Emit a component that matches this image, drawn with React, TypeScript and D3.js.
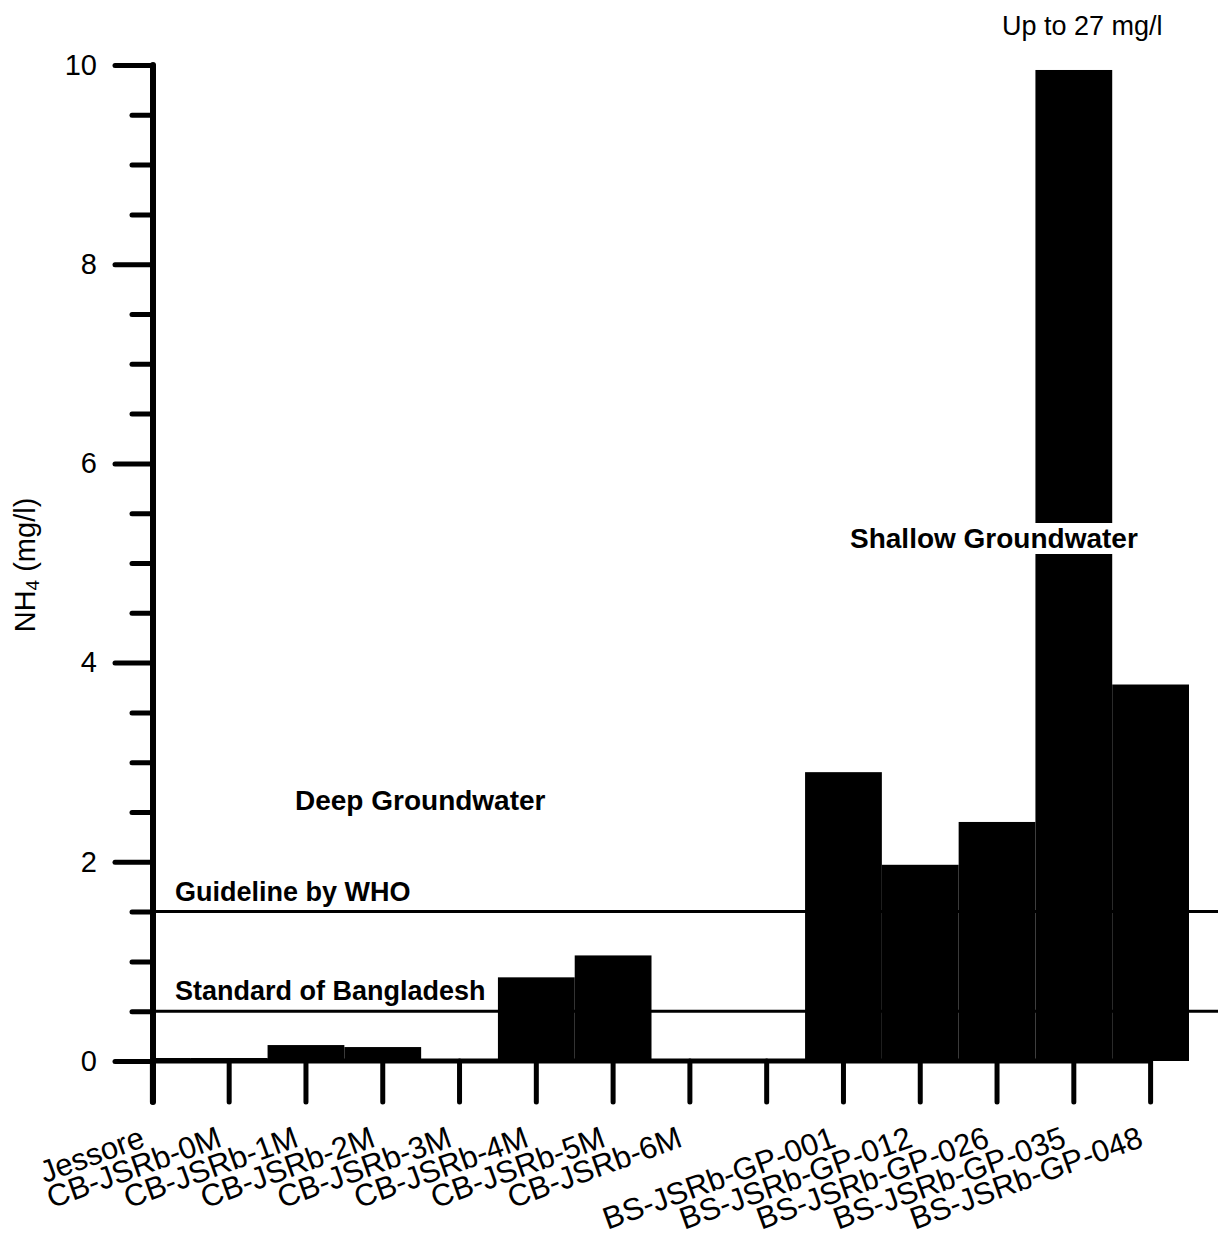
import { useEffect, useRef } from 'react';
import * as d3 from 'd3';

// sample sites, one per tick (the empty one is the gap between deep and shallow wells)
const sites = [
  'Jessore',
  'CB-JSRb-0M',
  'CB-JSRb-1M',
  'CB-JSRb-2M',
  'CB-JSRb-3M',
  'CB-JSRb-4M',
  'CB-JSRb-5M',
  'CB-JSRb-6M',
  '',
  'BS-JSRb-GP-001',
  'BS-JSRb-GP-012',
  'BS-JSRb-GP-026',
  'BS-JSRb-GP-035',
  'BS-JSRb-GP-048',
];
const nh4 = [0.03, 0.03, 0.16, 0.14, 0.02, 0.84, 1.06, 0.02, null, 2.9, 1.97, 2.4, 27, 3.78];

const yMajorTicks = [0, 2, 4, 6, 8, 10];
const yMinorTicks = [0.5, 1, 1.5, 2.5, 3, 3.5, 4.5, 5, 5.5, 6.5, 7, 7.5, 8.5, 9, 9.5];

const limitLabels = ['Guideline by WHO', 'Standard of Bangladesh'];
const limitValues = [1.5, 0.5];

const FONT = '"Liberation Sans", Arial, Helvetica, sans-serif';

const App = () => {
  const ref = useRef<SVGSVGElement | null>(null);

  useEffect(() => {
    if (!ref.current) return;
    const svg = d3.select(ref.current);
    svg.selectAll('*').remove();
    const width = 1220;
    const height = 1235;
    svg.attr('width', width).attr('height', height);

    const axisX = 153;
    const x = d3.scaleBand<string>().domain(sites).range([114, 1189]).padding(0);
    const y = d3.scaleLinear().domain([0, 10]).range([1061, 65]);
    const cx = (s: string) => (x(s) ?? 0) + x.bandwidth() / 2;

    // bars
    const bars = sites
      .map((s, i) => ({ s, v: nh4[i] }))
      .filter((d) => d.v !== null) as { s: string; v: number }[];
    svg
      .append('g')
      .selectAll('rect')
      .data(bars)
      .join('rect')
      .attr('x', (d) => Math.max(x(d.s) ?? 0, axisX))
      .attr('width', (d) => (x(d.s) ?? 0) + x.bandwidth() - Math.max(x(d.s) ?? 0, axisX))
      .attr('y', (d) => y(Math.min(d.v, 9.95)))
      .attr('height', (d) => y(0) - y(Math.min(d.v, 9.95)))
      .attr('fill', '#000');

    // limit lines
    svg
      .append('g')
      .selectAll('line')
      .data(limitValues)
      .join('line')
      .attr('x1', axisX)
      .attr('x2', 1218)
      .attr('y1', (d) => y(d))
      .attr('y2', (d) => y(d))
      .attr('stroke', '#000')
      .attr('stroke-width', 3);

    svg
      .append('g')
      .selectAll('text')
      .data(limitLabels)
      .join('text')
      .attr('x', 175)
      .attr('y', (_, i) => y(limitValues[i]) - 11)
      .attr('font-family', FONT)
      .attr('font-size', 27)
      .attr('font-weight', 'bold')
      .text((d) => d);

    // y axis: major and minor ticks
    const yMajor = svg
      .append('g')
      .attr('transform', `translate(${axisX},0)`)
      .call(d3.axisLeft(y).tickValues(yMajorTicks).tickSize(38).tickPadding(18).tickFormat(d3.format('d')));
    const yMinor = svg
      .append('g')
      .attr('transform', `translate(${axisX},0)`)
      .call(d3.axisLeft(y).tickValues(yMinorTicks).tickSize(21).tickFormat(() => ''));
    [yMajor, yMinor].forEach((g) => {
      g.select('.domain').remove();
      g.selectAll('line').attr('stroke', '#000').attr('stroke-width', 5).attr('stroke-linecap', 'round');
    });
    yMajor.selectAll('text').attr('font-family', FONT).attr('font-size', 29).attr('fill', '#000');

    // x axis ticks
    const xAxis = svg
      .append('g')
      .attr('transform', `translate(0,${y(0)})`)
      .call(d3.axisBottom(x).tickSize(41).tickFormat(() => ''));
    xAxis.select('.domain').remove();
    xAxis.selectAll('line').attr('stroke', '#000').attr('stroke-width', 5).attr('stroke-linecap', 'round');

    // axis lines
    svg
      .append('line')
      .attr('x1', axisX)
      .attr('x2', axisX)
      .attr('y1', y(10))
      .attr('y2', y(0) + 41)
      .attr('stroke', '#000')
      .attr('stroke-width', 6)
      .attr('stroke-linecap', 'round');
    svg
      .append('line')
      .attr('x1', axisX)
      .attr('x2', cx(sites[sites.length - 1]))
      .attr('y1', y(0))
      .attr('y2', y(0))
      .attr('stroke', '#000')
      .attr('stroke-width', 5);

    // rotated site labels
    svg
      .append('g')
      .selectAll('text')
      .data(sites.filter((s) => s !== ''))
      .join('text')
      .attr('transform', (d) => `translate(${cx(d) - 6},${1146}) rotate(-20)`)
      .attr('text-anchor', 'end')
      .attr('font-family', FONT)
      .attr('font-size', 31)
      .text((d) => d);

    // y title
    const title = svg
      .append('text')
      .attr('transform', `translate(35,565) rotate(-90)`)
      .attr('text-anchor', 'middle')
      .attr('font-family', FONT)
      .attr('font-size', 29);
    title.append('tspan').text('NH');
    title.append('tspan').attr('font-size', 19).attr('dy', 4).text('4');
    title.append('tspan').attr('dy', -4).text(' (mg/l)');

    // group annotations
    svg
      .append('text')
      .attr('x', 295)
      .attr('y', 810)
      .attr('font-family', FONT)
      .attr('font-size', 28)
      .attr('font-weight', 'bold')
      .text('Deep Groundwater');

    svg
      .append('rect')
      .attr('x', 845)
      .attr('y', 523)
      .attr('width', 300)
      .attr('height', 31)
      .attr('fill', '#fff');
    svg
      .append('text')
      .attr('x', 850)
      .attr('y', 548)
      .attr('font-family', FONT)
      .attr('font-size', 28)
      .attr('font-weight', 'bold')
      .text('Shallow Groundwater');

    svg
      .append('text')
      .attr('x', 1002)
      .attr('y', 35)
      .attr('font-family', FONT)
      .attr('font-size', 27)
      .text(`Up to ${d3.max(bars, (d) => d.v)} mg/l`);
  }, []);

  return <svg ref={ref} style={{ position: 'absolute', left: 0, top: 0, background: '#fff' }} />;
};

export default App;
